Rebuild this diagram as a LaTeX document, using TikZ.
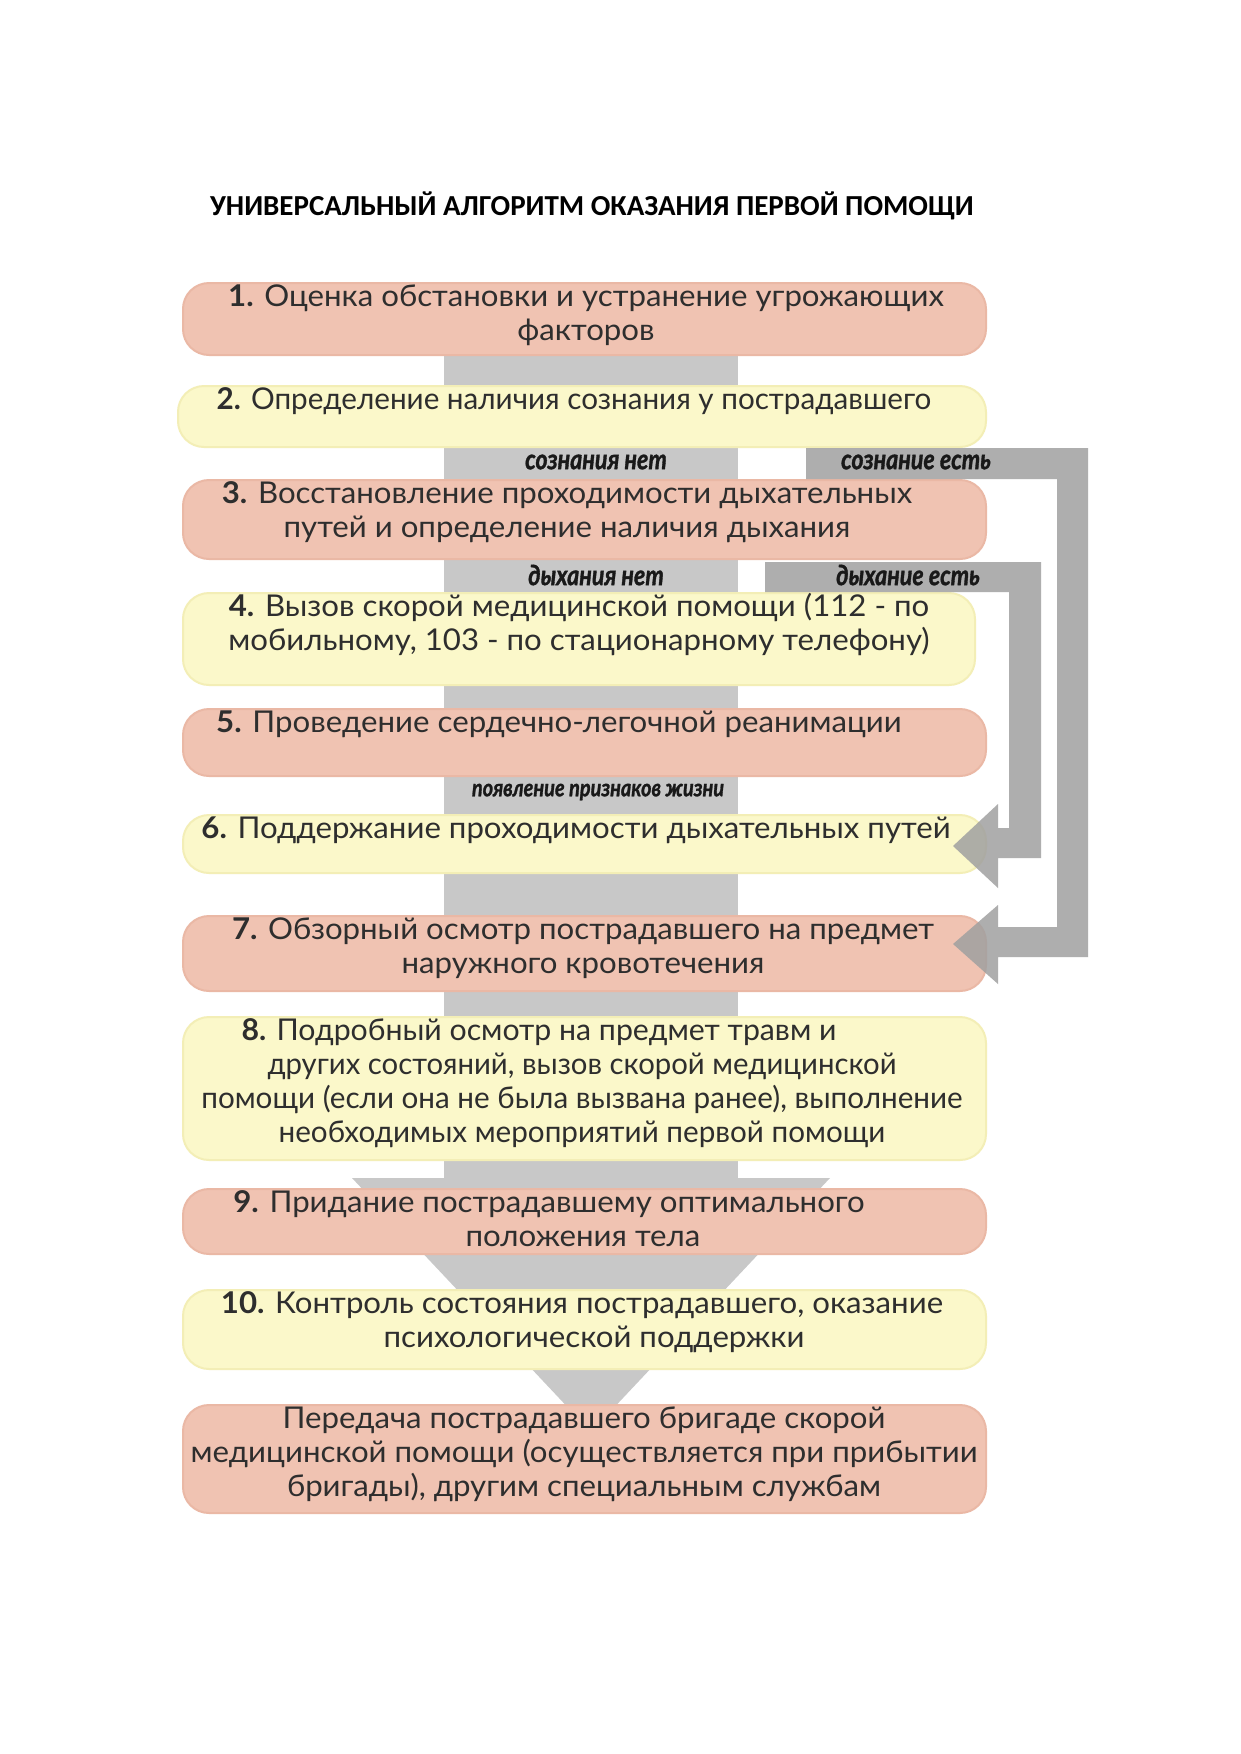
\documentclass[tikz,border=0pt]{standalone}
\usepackage{graphicx}
\usepackage{fontspec}
\setmainfont{Lato}[FakeStretch=1.04]
\newfontfamily\titlefont{Carlito}
\newfontfamily\lblfont{Lato}[FakeStretch=0.83, FakeBold=1.2]
\definecolor{salmon}{HTML}{F0C3B2}
\definecolor{salmonedge}{HTML}{EAB8A5}
\definecolor{paleyel}{HTML}{FBF8CA}
\definecolor{yeledge}{HTML}{F3EEB6}
\definecolor{trunkgray}{HTML}{C8C8C8}
\definecolor{bargray}{HTML}{A0A0A0}
\definecolor{txt}{HTML}{2E2E2E}
\begin{document}
\begin{tikzpicture}[x=1pt,y=-1pt,
  boxbase/.style={rectangle, rounded corners=26pt, line width=2pt, inner sep=0pt, minimum width=803pt},
  boxS/.style={boxbase, fill=salmon, draw=salmonedge},
  boxY/.style={boxbase, fill=paleyel, draw=yeledge},
  txtS/.style={anchor=north, inner sep=0pt, align=center, text=txt, font=\fontsize{30}{34}\selectfont},
  lblS/.style={inner sep=0pt, text=black!90, font=\lblfont\bfseries\itshape\fontsize{28}{30}\selectfont},
  arrowbar/.style={fill=bargray, fill opacity=0.85}
]
\useasboundingbox (0,0) rectangle (1241,1754);
\fill[white] (0,0) rectangle (1241,1754);

% title
\node[inner sep=0pt, font=\titlefont\bfseries\fontsize{29}{32}\selectfont] (title) at (592,206) {УНИВЕРСАЛЬНЫЙ АЛГОРИТМ ОКАЗАНИЯ ПЕРВОЙ ПОМОЩИ};

% central trunk and big arrowhead
\fill[trunkgray] (444,330) rectangle (738,1180);
\fill[trunkgray] (352,1178) -- (830,1178) -- (591,1432) -- cycle;

% boxes
\node[boxS, minimum height=72pt] (b1) at (584.5,319) {};
\node[boxY, minimum height=61pt, minimum width=808pt] (b2) at (582,416.5) {};
\node[boxS, minimum height=79pt] (b3) at (584.5,519.5) {};
\node[boxY, minimum height=92pt, minimum width=792pt] (b4) at (579,639) {};
\node[boxS, minimum height=67pt] (b5) at (584.5,742.5) {};
\node[boxY, minimum height=58pt] (b6) at (584.5,844) {};
\node[boxS, minimum height=75pt] (b7) at (584.5,953.5) {};
\node[boxY, minimum height=143pt] (b8) at (584.5,1088.5) {};
\node[boxS, minimum height=65pt] (b9) at (584.5,1221.5) {};
\node[boxY, minimum height=79pt] (b10) at (584.5,1329.5) {};
\node[boxS, minimum height=108pt] (b11) at (584.5,1459) {};

% texts
\node[txtS] (t1) at ([xshift=1.5pt]b1.north) {\strut\textbf{1.} Оценка обстановки и устранение угрожающих\\факторов};
\node[txtS] (t2) at ([xshift=-8pt]b2.north) {\strut\scalebox{0.95}[1]{\textbf{2.} Определение наличия сознания у пострадавшего}};
\node[txtS] (t3) at ([xshift=-17.5pt]b3.north) {\strut\textbf{3.} Восстановление проходимости дыхательных\\путей и определение наличия дыхания};
\node[txtS] (t4) at (b4.north) {\strut\textbf{4.} Вызов скорой медицинской помощи (112 - по\\мобильному, 103 - по стационарному телефону)};
\node[txtS] (t5) at ([xshift=-25.5pt]b5.north) {\strut\textbf{5.} Проведение сердечно-легочной реанимации};
\node[txtS] (t6) at ([xshift=-8.5pt]b6.north) {\strut\textbf{6.} Поддержание проходимости дыхательных путей};
\node[txtS] (t7) at ([xshift=-1.5pt]b7.north) {\strut\textbf{7.} Обзорный осмотр пострадавшего на предмет\\наружного кровотечения};
\node[txtS] (t8) at ([xshift=-2.5pt]b8.north) {\strut\scalebox{0.97}[1]{\textbf{8.} Подробный осмотр на предмет травм и}\hspace*{86pt}\\\scalebox{0.94}[1]{других состояний, вызов скорой медицинской}\\\scalebox{0.95}[1]{помощи (если она не была вызвана ранее), выполнение}\\\scalebox{0.95}[1]{необходимых мероприятий первой помощи}};
\node[txtS] (t9) at ([xshift=-35.5pt]b9.north) {\strut\textbf{9.} Придание пострадавшему оптимального\\\hspace*{68pt}положения тела};
\node[txtS] (t10) at ([xshift=-2.5pt]b10.north) {\strut\textbf{10.} Контроль состояния пострадавшего, оказание\\\hspace*{24pt}психологической поддержки};
\node[txtS] (t11) at ([xshift=-0.5pt]b11.north) {\strut Передача пострадавшего бригаде скорой\\медицинской помощи (осуществляется при прибытии\\бригады), другим специальным службам};

% right-side loop arrows
\fill[arrowbar] (806,448) -- (1088,448) -- (1088,957) -- (998,957) -- (998,984) -- (953,944) -- (998,905) -- (998,927) -- (1057,927) -- (1057,479) -- (806,479) -- cycle;
\fill[arrowbar] (765,562) -- (1041,562) -- (1041,858) -- (998,858) -- (998,888) -- (953,846) -- (998,804) -- (998,828) -- (1009,828) -- (1009,592) -- (765,592) -- cycle;

% labels
\node[lblS] (l1) at (596,462) {сознания нет};
\node[lblS] (l2) at (916,462) {сознание есть};
\node[lblS] (l3) at (596,575) {дыхания нет};
\node[lblS] (l4) at (908,575) {дыхание есть};
\node[lblS, font=\lblfont\bfseries\itshape\fontsize{24}{26}\selectfont] (l5) at (598,792) {появление признаков жизни};
\end{tikzpicture}
\end{document}
